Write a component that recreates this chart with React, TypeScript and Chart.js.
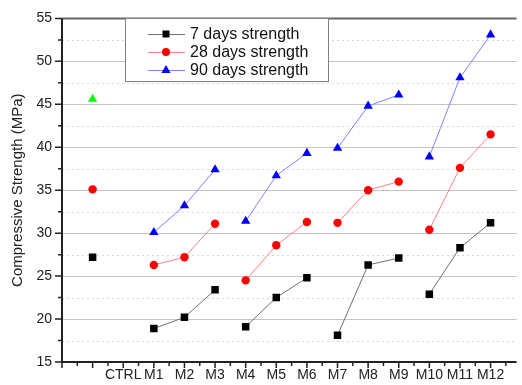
import React, { useEffect, useRef } from 'react';
import { Chart, registerables } from 'chart.js';

Chart.register(...registerables);

const categories = ['CTRL', 'M1', 'M2', 'M3', 'M4', 'M5', 'M6', 'M7', 'M8', 'M9', 'M10', 'M11', 'M12'];
const categoryX = [1, 3, 4, 5, 6, 7, 8, 9, 10, 11, 12, 13, 14];
const groups = [0, 1, 1, 1, 2, 2, 2, 3, 3, 3, 4, 4, 4];
const xTickLabels = ['', '', 'CTRL', 'M1', 'M2', 'M3', 'M4', 'M5', 'M6', 'M7', 'M8', 'M9', 'M10', 'M11', 'M12'];

const strength7 = [27.2, 18.9, 20.2, 23.4, 19.1, 22.5, 24.8, 18.1, 26.3, 27.1, 22.9, 28.3, 31.2];
const strength28 = [35.1, 26.3, 27.2, 31.1, 24.5, 28.6, 31.3, 31.2, 35.0, 36.0, 30.4, 37.6, 41.5];
const strength90 = [45.6, 30.1, 33.2, 37.4, 31.4, 36.7, 39.3, 39.9, 44.8, 46.1, 38.9, 48.1, 53.1];

const seriesNames = ['7 days strength', '28 days strength', '90 days strength'];

const FONT = '"Liberation Sans", Arial, sans-serif';

const gridPlugin = {
  id: 'customGrid',
  beforeDatasetsDraw(chart: any) {
    const { ctx, chartArea, scales } = chart;
    const y = scales.y;
    ctx.save();
    for (let v = 17.5; v < 55; v += 2.5) {
      const py = Math.round(y.getPixelForValue(v)) + 0.5;
      const major = Math.abs(v % 5) < 1e-6;
      ctx.beginPath();
      ctx.lineWidth = 1;
      if (major) {
        ctx.setLineDash([]);
        ctx.strokeStyle = '#c4c4c4';
      } else {
        ctx.setLineDash([2, 3]);
        ctx.strokeStyle = '#d8d8d8';
      }
      ctx.moveTo(chartArea.left, py);
      ctx.lineTo(chartArea.right, py);
      ctx.stroke();
    }
    ctx.restore();
  },
  afterDatasetsDraw(chart: any) {
    const { ctx, chartArea, scales } = chart;
    const x = scales.x;
    const y = scales.y;
    ctx.save();
    ctx.setLineDash([]);
    ctx.strokeStyle = '#666';
    ctx.lineWidth = 2;
    ctx.beginPath();
    ctx.moveTo(chartArea.left, chartArea.top);
    ctx.lineTo(chartArea.right, chartArea.top);
    ctx.stroke();
    ctx.strokeStyle = '#222';
    ctx.lineWidth = 2;
    ctx.beginPath();
    ctx.moveTo(chartArea.left, chartArea.top);
    ctx.lineTo(chartArea.left, chartArea.bottom);
    ctx.lineTo(chartArea.right, chartArea.bottom);
    ctx.stroke();
    ctx.lineWidth = 1.5;
    ctx.beginPath();
    for (let v = 15; v <= 55 + 1e-6; v += 2.5) {
      const py = y.getPixelForValue(v);
      const len = Math.abs(v % 5) < 1e-6 ? 7 : 4;
      ctx.moveTo(chartArea.left, py);
      ctx.lineTo(chartArea.left - len, py);
    }
    for (let v = 0; v <= 14.5 + 1e-6; v += 0.5) {
      const px = x.getPixelForValue(v);
      const len = Math.abs(v % 1) < 1e-6 ? 6 : 4;
      ctx.moveTo(px, chartArea.bottom);
      ctx.lineTo(px, chartArea.bottom + len);
    }
    ctx.stroke();
    ctx.restore();
  },
  afterDraw(chart: any) {
    const { ctx } = chart;
    ctx.save();
    const bx = 125.5, by = 18.5, bw = 203, bh = 63;
    ctx.fillStyle = '#fff';
    ctx.fillRect(bx, by, bw, bh);
    ctx.strokeStyle = '#808080';
    ctx.lineWidth = 1;
    ctx.strokeRect(bx, by, bw, bh);
    const rows = [34, 52, 70];
    const lineColors = ['#707070', '#ff8080', '#8080ff'];
    const markColors = ['#000000', '#ff0000', '#0000ff'];
    ctx.font = '16px ' + FONT;
    ctx.textBaseline = 'middle';
    rows.forEach((ry, i) => {
      ctx.strokeStyle = lineColors[i];
      ctx.lineWidth = 1;
      ctx.beginPath();
      ctx.moveTo(148, ry + 0.5);
      ctx.lineTo(185, ry + 0.5);
      ctx.stroke();
      ctx.fillStyle = markColors[i];
      ctx.beginPath();
      const cx = 166;
      if (i === 0) {
        ctx.rect(cx - 3.5, ry - 3.5, 7, 7);
      } else if (i === 1) {
        ctx.arc(cx, ry, 4, 0, Math.PI * 2);
      } else {
        ctx.moveTo(cx, ry - 5);
        ctx.lineTo(cx + 4.6, ry + 3);
        ctx.lineTo(cx - 4.6, ry + 3);
        ctx.closePath();
      }
      ctx.fill();
      ctx.fillStyle = '#111';
      ctx.fillText(seriesNames[i], 190, ry + 1);
    });
    ctx.restore();
  },
};

function makeData(values: number[]) {
  return values.map((v, i) => ({ x: categoryX[i], y: v }));
}

function segColor(color: string) {
  return (ctx: any) => (groups[ctx.p0DataIndex] === groups[ctx.p1DataIndex] ? color : 'rgba(0,0,0,0)');
}

export default function App() {
  const ref = useRef<HTMLCanvasElement>(null);
  useEffect(() => {
    if (!ref.current) return;
    const green = strength90.map((_, i) => (i === 0 ? '#00ff00' : '#0000ff'));
    const chart = new Chart(ref.current, {
      type: 'line',
      data: {
        datasets: [
          {
            label: seriesNames[0],
            data: makeData(strength7),
            borderColor: '#707070',
            borderWidth: 1,
            pointStyle: 'rect',
            pointRadius: 5.3,
            pointBackgroundColor: '#000',
            pointBorderColor: '#000',
            pointBorderWidth: 0,
            segment: { borderColor: segColor('#707070') },
          },
          {
            label: seriesNames[1],
            data: makeData(strength28),
            borderColor: '#ff8080',
            borderWidth: 1,
            pointStyle: 'circle',
            pointRadius: 4.2,
            pointBackgroundColor: '#ff0000',
            pointBorderColor: '#ff0000',
            pointBorderWidth: 0,
            segment: { borderColor: segColor('#ff8080') },
          },
          {
            label: seriesNames[2],
            data: makeData(strength90),
            borderColor: '#8080ff',
            borderWidth: 1,
            pointStyle: 'triangle',
            pointRadius: 5.4,
            pointBackgroundColor: green,
            pointBorderColor: green,
            pointBorderWidth: 0,
            segment: { borderColor: segColor('#8080ff') },
          },
        ],
      } as any,
      options: {
        animation: false,
        responsive: false,
        maintainAspectRatio: false,
        layout: { padding: { top: 15, right: 0, left: 0, bottom: 0 } },
        plugins: { legend: { display: false }, tooltip: { enabled: false } },
        scales: {
          x: {
            type: 'linear',
            min: 0,
            max: 14.85,
            grid: { display: false, drawTicks: false, tickLength: 0 },
            border: { display: false },
            ticks: {
              stepSize: 1,
              includeBounds: false,
              autoSkip: false,
              maxRotation: 0,
              minRotation: 0,
              padding: 5,
              color: '#222',
              font: { family: FONT, size: 14 },
              callback: (v: any) => {
                const n = Number(v);
                return Number.isInteger(n) ? xTickLabels[n] ?? '' : '';
              },
            },
            afterFit: (s: any) => {
              s.height = 23;
            },
          },
          y: {
            type: 'linear',
            min: 15,
            max: 55,
            grid: { display: false, drawTicks: false, tickLength: 0 },
            border: { display: false },
            ticks: {
              stepSize: 5,
              padding: 10,
              color: '#222',
              font: { family: FONT, size: 14 },
            },
            title: {
              display: true,
              text: 'Compressive Strength (MPa)',
              color: '#222',
              font: { family: FONT, size: 15 },
              padding: { top: 9, bottom: 0 },
            },
            afterFit: (s: any) => {
              s.width = 62;
            },
          },
        },
      } as any,
      plugins: [gridPlugin],
    });
    return () => chart.destroy();
  }, []);
  return (
    <div style={{ position: 'absolute', left: 0, top: 0, width: 522, height: 385, background: '#fff' }}>
      <canvas ref={ref} width={522} height={385} style={{ width: 522, height: 385 }} />
    </div>
  );
}
